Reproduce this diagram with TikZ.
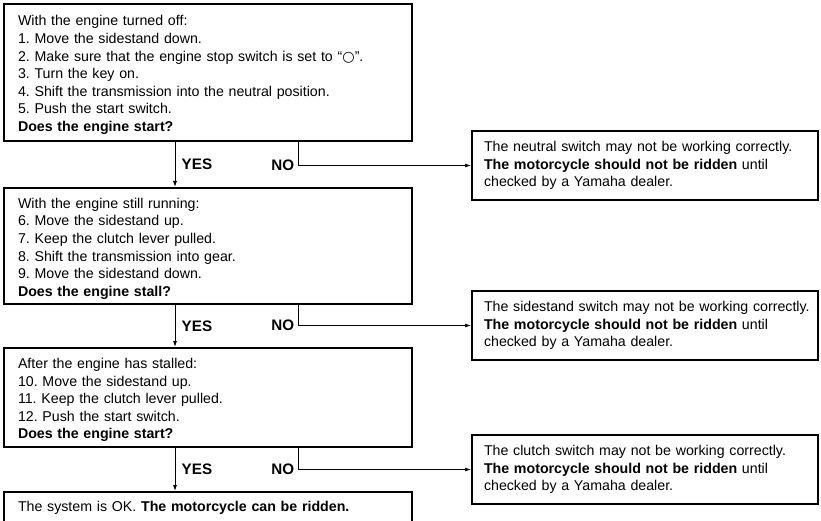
\documentclass[tikz,border=0pt]{standalone}
\usepackage{fontspec}
\setmainfont{Liberation Sans}
\newfontfamily\symfont{DejaVu Sans}
\usetikzlibrary{arrows.meta}
\frenchspacing
\newcommand{\topgap}{\rule{0pt}{15.5pt}}

\tikzset{
  stepbox/.style={draw, line width=2pt, anchor=north west, align=left,
    minimum width=408pt, text width=380pt, inner xsep=14pt,
    font=\fontsize{14.2}{17.6}\selectfont},
  warnbox/.style={stepbox, minimum width=346pt, text width=322pt, inner xsep=12pt,
    minimum height=69pt},
  flow/.style={line width=0.8pt, -{Latex[length=6pt,width=4pt]}},
  answer/.style={font=\fontsize{15.2}{18}\selectfont\bfseries}
}

\begin{document}
\begin{tikzpicture}[x=1pt,y=-1pt]
  \clip (0,0) rectangle (821,521);
  % steps on the left
  \node[stepbox, minimum height=137pt] (start) at (3,3)
    {\topgap With the engine turned off:\\
     1. Move the sidestand down.\\
     2. Make sure that the engine stop switch is set to “{\symfont ○}”.\\
     3. Turn the key on.\\
     4. Shift the transmission into the neutral position.\\
     5. Push the start switch.\\
     \textbf{Does the engine start?}};
  \node[stepbox, minimum height=116pt] (running) at (3,187)
    {\topgap With the engine still running:\\
     6. Move the sidestand up.\\
     7. Keep the clutch lever pulled.\\
     8. Shift the transmission into gear.\\
     9. Move the sidestand down.\\
     \textbf{Does the engine stall?}};
  \node[stepbox, minimum height=99pt] (stalled) at (3,347)
    {\topgap After the engine has stalled:\\
     10. Move the sidestand up.\\
     11. Keep the clutch lever pulled.\\
     12. Push the start switch.\\
     \textbf{Does the engine start?}};
  \node[stepbox, inner ysep=9pt, text depth=25pt] (ok) at (3,491)
    {The system is OK. \textbf{The motorcycle can be ridden.}};
  % warnings on the right
  \node[warnbox] (neutral) at (471,130)
    {\mbox{The neutral switch may not be working correctly.}\\
     \textbf{The motorcycle should not be ridden} until\\
     checked by a Yamaha dealer.};
  \node[warnbox] (sidestand) at (471,290)
    {\mbox{The sidestand switch may not be working correctly.}\\
     \textbf{The motorcycle should not be ridden} until\\
     checked by a Yamaha dealer.};
  \node[warnbox] (clutch) at (471,434)
    {\mbox{The clutch switch may not be working correctly.}\\
     \textbf{The motorcycle should not be ridden} until\\
     checked by a Yamaha dealer.};
  % YES branches
  \draw[flow] ([xshift=172pt]start.south west) -- node[answer, right=3pt] {YES} ([xshift=172pt]running.north west);
  \draw[flow] ([xshift=172pt]running.south west) -- node[answer, right=3pt] {YES} ([xshift=172pt]stalled.north west);
  \draw[flow] ([xshift=172pt]stalled.south west) -- node[answer, right=3pt] {YES} ([xshift=172pt]ok.north west);
  % NO branches
  \draw[flow] ([xshift=295pt]start.south west) |- node[answer, left, pos=0.5] {NO} (neutral.west);
  \draw[flow] ([xshift=295pt]running.south west) |- node[answer, left, pos=0.5] {NO} (sidestand.west);
  \draw[flow] ([xshift=295pt]stalled.south west) |- node[answer, left, pos=0.5] {NO} (clutch.west);
\end{tikzpicture}
\end{document}
